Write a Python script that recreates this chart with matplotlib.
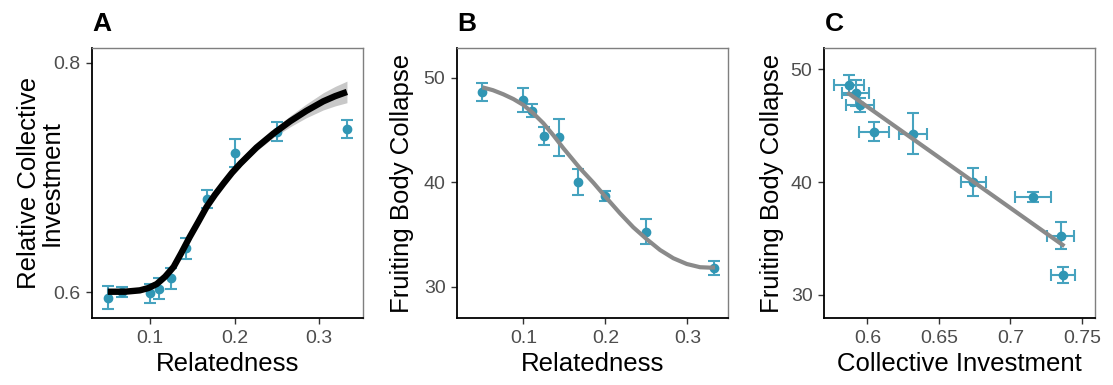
import numpy as np
import matplotlib
matplotlib.use('Agg')
import matplotlib.pyplot as plt

plt.rcParams['font.family'] = ['Liberation Sans', 'DejaVu Sans']

# dados
relatedness = [0.05, 0.0667, 0.1, 0.111, 0.125, 0.143, 0.167, 0.2, 0.25, 0.333]
investRel = [0.595, 0.600, 0.599, 0.603, 0.612, 0.638, 0.681, 0.721, 0.740, 0.742]
investRelErr = [0.0101, 0.004, 0.0084, 0.009, 0.0094, 0.009, 0.008, 0.0123, 0.0087, 0.0077]

# curva ajustada (painel A) e meia largura da banda de confiança
curvaAx = [0.05, 0.07, 0.088, 0.098, 0.108, 0.118, 0.128, 0.137, 0.147, 0.157, 0.167, 0.177,
           0.187, 0.197, 0.207, 0.226, 0.246, 0.266, 0.285, 0.305, 0.319, 0.333]
curvaAy = [0.6003, 0.6003, 0.6015, 0.6035, 0.607, 0.6135, 0.622, 0.634, 0.648, 0.661, 0.6743, 0.685,
           0.6947, 0.704, 0.7121, 0.726, 0.7382, 0.749, 0.758, 0.7663, 0.7708, 0.7745]
bandaA = [0.0005, 0.0005, 0.0008, 0.001, 0.001, 0.0012, 0.0014, 0.0016, 0.0018, 0.002, 0.002, 0.0021,
          0.0022, 0.0024, 0.0026, 0.003, 0.0035, 0.0048, 0.006, 0.0075, 0.0085, 0.0094]

relB = [0.05, 0.1, 0.111, 0.125, 0.143, 0.167, 0.2, 0.25, 0.333]
colapso = [48.6, 47.87, 46.84, 44.45, 44.3, 40.0, 38.68, 35.26, 31.76]
colapsoErr = [0.88, 1.16, 0.62, 0.85, 1.79, 1.24, 0.45, 1.21, 0.67]

# curva do painel B
curvaBx = [0.05, 0.063, 0.0756, 0.088, 0.1, 0.112, 0.1244, 0.137, 0.1488, 0.1691, 0.1854, 0.2017,
           0.2179, 0.2341, 0.2505, 0.2667, 0.2829, 0.2993, 0.3155, 0.3277, 0.3338]
curvaBy = [49.08, 48.8, 48.41, 47.95, 47.39, 46.6, 45.64, 44.45, 43.25, 41.33, 39.95, 38.46,
           37.02, 35.68, 34.54, 33.51, 32.72, 32.17, 31.86, 31.82, 31.84]

investimento = [0.5872, 0.5919, 0.5949, 0.6047, 0.6322, 0.6741, 0.7157, 0.7352, 0.7366]
investimentoErr = [0.0107, 0.0094, 0.0096, 0.0103, 0.0098, 0.0087, 0.0127, 0.0093, 0.0083]

corPonto = '#3096B4'
corErro = '#47A3BF'
corCinza = '#8A8A8A'
corTick = '#4D4D4D'

fig = plt.figure(figsize=(11.13, 3.85), dpi=100)

larg = 271 / 1113
alt = 270 / 385
base = 67 / 385
axA = fig.add_axes([92 / 1113, base, larg, alt])
axB = fig.add_axes([457 / 1113, base, larg, alt])
axC = fig.add_axes([824 / 1113, base, larg, alt])


def estilo(ax):
    for lado in ['left', 'bottom']:
        ax.spines[lado].set_color('black')
        ax.spines[lado].set_linewidth(1.3)
    for lado in ['top', 'right']:
        ax.spines[lado].set_color('#7F7F7F')
        ax.spines[lado].set_linewidth(1.0)
    ax.tick_params(axis='both', labelsize=14, colors='#333333', labelcolor=corTick,
                   length=4.3, width=1.0, pad=4)
    ax.xaxis.label.set_size(18.5)
    ax.yaxis.label.set_size(18.5)


barras = dict(fmt='o', color=corPonto, ecolor=corErro, ms=6, elinewidth=1.5,
              capsize=4.5, capthick=1.5, zorder=3)

# Painel A
curvaAy = np.array(curvaAy)
bandaA = np.array(bandaA)
axA.fill_between(curvaAx, curvaAy - bandaA, curvaAy + bandaA, color='#C8C8C8', lw=0, zorder=2)
axA.errorbar(relatedness, investRel, yerr=investRelErr, **barras)
axA.plot(curvaAx, curvaAy, color='black', lw=4.6, solid_capstyle='butt',
         solid_joinstyle='round', zorder=4)
axA.set_xlim(0.0314, 0.352)
axA.set_ylim(0.5774, 0.8128)
axA.set_xticks([0.1, 0.2, 0.3])
axA.set_yticks([0.6, 0.8])
axA.set_xlabel('Relatedness')
axA.set_ylabel('Relative Collective\nInvestment', linespacing=0.95)
estilo(axA)

# Painel B
axB.errorbar(relB, colapso, yerr=colapsoErr, **barras)
axB.plot(curvaBx, curvaBy, color=corCinza, lw=3, solid_capstyle='butt',
         solid_joinstyle='round', zorder=4)
axB.set_xlim(0.0191, 0.3496)
axB.set_ylim(27.0, 52.84)
axB.set_xticks([0.1, 0.2, 0.3])
axB.set_yticks([30, 40, 50])
axB.set_xlabel('Relatedness')
axB.set_ylabel('Fruiting Body Collapse')
estilo(axB)

# Painel C - regressão linear
coef = np.polyfit(investimento, colapso, 1)
xs = np.array([min(investimento), max(investimento)])
axC.errorbar(investimento, colapso, xerr=investimentoErr, yerr=colapsoErr, **barras)
axC.plot(xs, np.polyval(coef, xs), color=corCinza, lw=3, zorder=4)
axC.set_xlim(0.5697, 0.7592)
axC.set_ylim(27.95, 51.89)
axC.set_xticks([0.6, 0.65, 0.7, 0.75])
axC.set_xticklabels(['0.6', '0.65', '0.7', '0.75'])
axC.set_yticks([30, 40, 50])
axC.set_xlabel('Collective Investment')
axC.set_ylabel('Fruiting Body Collapse')
estilo(axC)

axA.yaxis.set_label_coords(-0.103, 0.5)
axB.yaxis.set_label_coords(-0.159, 0.5)
axC.yaxis.set_label_coords(-0.146, 0.5)
for ax in [axA, axB, axC]:
    ax.xaxis.set_label_coords(0.5, -0.125)

# letras dos painéis
for letra, xl in [('A', 92), ('B', 457), ('C', 825)]:
    fig.text(xl / 1113, 1 - 12 / 385, letra, fontsize=19, fontweight='bold', va='top', ha='left')

fig.savefig('out.png', dpi=100)
